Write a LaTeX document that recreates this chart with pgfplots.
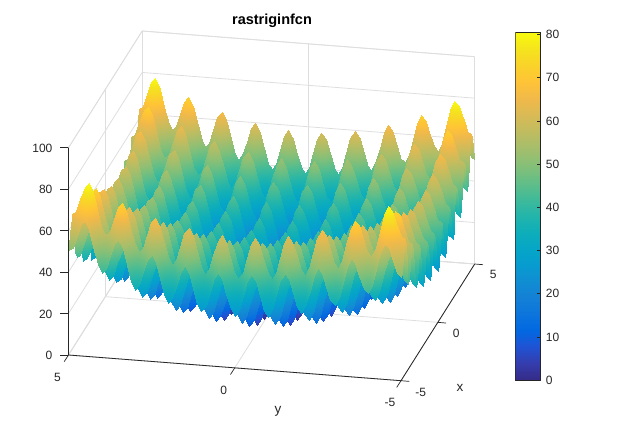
\documentclass[border=0pt]{standalone}
\usepackage{pgfplots}
\usepackage{pgfplotstable}
\pgfplotsset{compat=1.18}
\usepackage{fontspec}
\setmainfont{Liberation Sans}
\usepgfplotslibrary{patchplots}
\definecolor{axc}{gray}{0.15}
\definecolor{grc}{gray}{0.87}
\pgfplotsset{
 /pgf/number format/assume math mode=true,
 colormap={parula}{rgb=(.2081,.1663,.5292) rgb=(.2081,.2386,.6771) rgb=(.1253,.3242,.8303) rgb=(.0060,.4086,.8828) rgb=(.0498,.4586,.8641) rgb=(.0779,.5040,.8384) rgb=(.0641,.5570,.8240) rgb=(.0265,.6137,.8135) rgb=(.0228,.6535,.7768) rgb=(.0590,.6838,.7254) rgb=(.1453,.7098,.6646) rgb=(.2586,.7317,.5954) rgb=(.3953,.7459,.5244) rgb=(.5300,.7491,.4661) rgb=(.6473,.7456,.4188) rgb=(.7525,.7384,.3768) rgb=(.8507,.7299,.3360) rgb=(.9450,.7261,.2886) rgb=(.9990,.7653,.2164) rgb=(.9789,.8271,.1633) rgb=(.9589,.8949,.1132) rgb=(.9763,.9831,.0538)}
}
\pgfplotstableread[header=false,row sep=\\]{50.0\\51.7\\57.6\\63.5\\65.3\\61.2\\53.1\\45.0\\41.0\\43.0\\49.1\\55.2\\57.3\\53.5\\45.6\\37.7\\34.0\\36.2\\42.6\\49.0\\51.3\\47.7\\40.1\\32.5\\29.0\\31.5\\38.1\\44.7\\47.3\\44.0\\36.6\\29.2\\26.0\\28.7\\35.6\\42.5\\45.3\\42.2\\35.1\\28.0\\25.0\\28.0\\35.1\\42.2\\45.3\\42.5\\35.6\\28.7\\26.0\\29.2\\36.6\\44.0\\47.3\\44.7\\38.1\\31.5\\29.0\\32.5\\40.1\\47.7\\51.3\\49.0\\42.6\\36.2\\34.0\\37.7\\45.6\\53.5\\57.3\\55.2\\49.1\\43.0\\41.0\\45.0\\53.1\\61.2\\65.3\\63.5\\57.6\\51.7\\50.0\\}\Ra
\pgfplotstableread[header=false,row sep=\\]{51.7\\53.4\\59.3\\65.2\\67.0\\62.9\\54.8\\46.7\\42.7\\44.7\\50.8\\56.9\\59.0\\55.2\\47.3\\39.4\\35.7\\37.9\\44.3\\50.7\\53.0\\49.4\\41.8\\34.2\\30.7\\33.2\\39.8\\46.4\\49.0\\45.7\\38.3\\30.9\\27.7\\30.4\\37.3\\44.2\\47.0\\43.9\\36.8\\29.7\\26.7\\29.7\\36.8\\43.9\\47.0\\44.2\\37.3\\30.4\\27.7\\30.9\\38.3\\45.7\\49.0\\46.4\\39.8\\33.2\\30.7\\34.2\\41.8\\49.4\\53.0\\50.7\\44.3\\37.9\\35.7\\39.4\\47.3\\55.2\\59.0\\56.9\\50.8\\44.7\\42.7\\46.7\\54.8\\62.9\\67.0\\65.2\\59.3\\53.4\\51.7\\}\Sa
\pgfplotstableread[header=false,row sep=\\]{57.6\\59.3\\65.2\\71.1\\72.9\\68.8\\60.7\\52.6\\48.6\\50.6\\56.7\\62.8\\64.9\\61.1\\53.2\\45.3\\41.6\\43.8\\50.2\\56.6\\58.9\\55.3\\47.7\\40.1\\36.6\\39.1\\45.7\\52.3\\54.9\\51.6\\44.2\\36.8\\33.6\\36.3\\43.2\\50.1\\52.9\\49.8\\42.7\\35.6\\32.6\\35.6\\42.7\\49.8\\52.9\\50.1\\43.2\\36.3\\33.6\\36.8\\44.2\\51.6\\54.9\\52.3\\45.7\\39.1\\36.6\\40.1\\47.7\\55.3\\58.9\\56.6\\50.2\\43.8\\41.6\\45.3\\53.2\\61.1\\64.9\\62.8\\56.7\\50.6\\48.6\\52.6\\60.7\\68.8\\72.9\\71.1\\65.2\\59.3\\57.6\\}\Rb
\pgfplotstableread[header=false,row sep=\\]{63.5\\65.2\\71.1\\77.0\\78.8\\74.7\\66.6\\58.5\\54.5\\56.5\\62.6\\68.7\\70.8\\67.0\\59.1\\51.2\\47.5\\49.7\\56.1\\62.5\\64.8\\61.2\\53.6\\46.0\\42.5\\45.0\\51.6\\58.2\\60.8\\57.5\\50.1\\42.7\\39.5\\42.2\\49.1\\56.0\\58.8\\55.7\\48.6\\41.5\\38.5\\41.5\\48.6\\55.7\\58.8\\56.0\\49.1\\42.2\\39.5\\42.7\\50.1\\57.5\\60.8\\58.2\\51.6\\45.0\\42.5\\46.0\\53.6\\61.2\\64.8\\62.5\\56.1\\49.7\\47.5\\51.2\\59.1\\67.0\\70.8\\68.7\\62.6\\56.5\\54.5\\58.5\\66.6\\74.7\\78.8\\77.0\\71.1\\65.2\\63.5\\}\Sb
\pgfplotstableread[header=false,row sep=\\]{65.3\\67.0\\72.9\\78.8\\80.6\\76.5\\68.4\\60.3\\56.3\\58.3\\64.4\\70.5\\72.6\\68.8\\60.9\\53.0\\49.3\\51.5\\57.9\\64.3\\66.6\\63.0\\55.4\\47.8\\44.3\\46.8\\53.4\\60.0\\62.6\\59.3\\51.9\\44.5\\41.3\\44.0\\50.9\\57.8\\60.6\\57.5\\50.4\\43.3\\40.3\\43.3\\50.4\\57.5\\60.6\\57.8\\50.9\\44.0\\41.3\\44.5\\51.9\\59.3\\62.6\\60.0\\53.4\\46.8\\44.3\\47.8\\55.4\\63.0\\66.6\\64.3\\57.9\\51.5\\49.3\\53.0\\60.9\\68.8\\72.6\\70.5\\64.4\\58.3\\56.3\\60.3\\68.4\\76.5\\80.6\\78.8\\72.9\\67.0\\65.3\\}\Rc
\pgfplotstableread[header=false,row sep=\\]{61.2\\62.9\\68.8\\74.7\\76.5\\72.4\\64.3\\56.2\\52.2\\54.2\\60.3\\66.4\\68.5\\64.7\\56.8\\48.9\\45.2\\47.4\\53.8\\60.2\\62.5\\58.9\\51.3\\43.7\\40.2\\42.7\\49.3\\55.9\\58.5\\55.2\\47.8\\40.4\\37.2\\39.9\\46.8\\53.7\\56.5\\53.4\\46.3\\39.2\\36.2\\39.2\\46.3\\53.4\\56.5\\53.7\\46.8\\39.9\\37.2\\40.4\\47.8\\55.2\\58.5\\55.9\\49.3\\42.7\\40.2\\43.7\\51.3\\58.9\\62.5\\60.2\\53.8\\47.4\\45.2\\48.9\\56.8\\64.7\\68.5\\66.4\\60.3\\54.2\\52.2\\56.2\\64.3\\72.4\\76.5\\74.7\\68.8\\62.9\\61.2\\}\Sc
\pgfplotstableread[header=false,row sep=\\]{53.1\\54.8\\60.7\\66.6\\68.4\\64.3\\56.2\\48.1\\44.1\\46.1\\52.2\\58.3\\60.4\\56.6\\48.7\\40.8\\37.1\\39.3\\45.7\\52.1\\54.4\\50.8\\43.2\\35.6\\32.1\\34.6\\41.2\\47.8\\50.4\\47.1\\39.7\\32.3\\29.1\\31.8\\38.7\\45.6\\48.4\\45.3\\38.2\\31.1\\28.1\\31.1\\38.2\\45.3\\48.4\\45.6\\38.7\\31.8\\29.1\\32.3\\39.7\\47.1\\50.4\\47.8\\41.2\\34.6\\32.1\\35.6\\43.2\\50.8\\54.4\\52.1\\45.7\\39.3\\37.1\\40.8\\48.7\\56.6\\60.4\\58.3\\52.2\\46.1\\44.1\\48.1\\56.2\\64.3\\68.4\\66.6\\60.7\\54.8\\53.1\\}\Rd
\pgfplotstableread[header=false,row sep=\\]{45.0\\46.7\\52.6\\58.5\\60.3\\56.2\\48.1\\40.0\\36.0\\38.0\\44.1\\50.2\\52.3\\48.5\\40.6\\32.7\\29.0\\31.2\\37.6\\44.0\\46.3\\42.7\\35.1\\27.5\\24.0\\26.5\\33.1\\39.7\\42.3\\39.0\\31.6\\24.2\\21.0\\23.7\\30.6\\37.5\\40.3\\37.2\\30.1\\23.0\\20.0\\23.0\\30.1\\37.2\\40.3\\37.5\\30.6\\23.7\\21.0\\24.2\\31.6\\39.0\\42.3\\39.7\\33.1\\26.5\\24.0\\27.5\\35.1\\42.7\\46.3\\44.0\\37.6\\31.2\\29.0\\32.7\\40.6\\48.5\\52.3\\50.2\\44.1\\38.0\\36.0\\40.0\\48.1\\56.2\\60.3\\58.5\\52.6\\46.7\\45.0\\}\Sd
\pgfplotstableread[header=false,row sep=\\]{41.0\\42.7\\48.6\\54.5\\56.3\\52.2\\44.1\\36.0\\32.0\\34.0\\40.1\\46.2\\48.3\\44.5\\36.6\\28.7\\25.0\\27.2\\33.6\\40.0\\42.3\\38.7\\31.1\\23.5\\20.0\\22.5\\29.1\\35.7\\38.3\\35.0\\27.6\\20.2\\17.0\\19.7\\26.6\\33.5\\36.3\\33.2\\26.1\\19.0\\16.0\\19.0\\26.1\\33.2\\36.3\\33.5\\26.6\\19.7\\17.0\\20.2\\27.6\\35.0\\38.3\\35.7\\29.1\\22.5\\20.0\\23.5\\31.1\\38.7\\42.3\\40.0\\33.6\\27.2\\25.0\\28.7\\36.6\\44.5\\48.3\\46.2\\40.1\\34.0\\32.0\\36.0\\44.1\\52.2\\56.3\\54.5\\48.6\\42.7\\41.0\\}\Re
\pgfplotstableread[header=false,row sep=\\]{43.0\\44.7\\50.6\\56.5\\58.3\\54.2\\46.1\\38.0\\34.0\\36.0\\42.1\\48.2\\50.3\\46.5\\38.6\\30.7\\27.0\\29.2\\35.6\\42.0\\44.3\\40.7\\33.1\\25.5\\22.0\\24.5\\31.1\\37.7\\40.3\\37.0\\29.6\\22.2\\19.0\\21.7\\28.6\\35.5\\38.3\\35.2\\28.1\\21.0\\18.0\\21.0\\28.1\\35.2\\38.3\\35.5\\28.6\\21.7\\19.0\\22.2\\29.6\\37.0\\40.3\\37.7\\31.1\\24.5\\22.0\\25.5\\33.1\\40.7\\44.3\\42.0\\35.6\\29.2\\27.0\\30.7\\38.6\\46.5\\50.3\\48.2\\42.1\\36.0\\34.0\\38.0\\46.1\\54.2\\58.3\\56.5\\50.6\\44.7\\43.0\\}\Se
\pgfplotstableread[header=false,row sep=\\]{49.1\\50.8\\56.7\\62.6\\64.4\\60.3\\52.2\\44.1\\40.1\\42.1\\48.2\\54.3\\56.4\\52.6\\44.7\\36.8\\33.1\\35.3\\41.7\\48.1\\50.4\\46.8\\39.2\\31.6\\28.1\\30.6\\37.2\\43.8\\46.4\\43.1\\35.7\\28.3\\25.1\\27.8\\34.7\\41.6\\44.4\\41.3\\34.2\\27.1\\24.1\\27.1\\34.2\\41.3\\44.4\\41.6\\34.7\\27.8\\25.1\\28.3\\35.7\\43.1\\46.4\\43.8\\37.2\\30.6\\28.1\\31.6\\39.2\\46.8\\50.4\\48.1\\41.7\\35.3\\33.1\\36.8\\44.7\\52.6\\56.4\\54.3\\48.2\\42.1\\40.1\\44.1\\52.2\\60.3\\64.4\\62.6\\56.7\\50.8\\49.1\\}\Rf
\pgfplotstableread[header=false,row sep=\\]{55.2\\56.9\\62.8\\68.7\\70.5\\66.4\\58.3\\50.2\\46.2\\48.2\\54.3\\60.4\\62.5\\58.7\\50.8\\42.9\\39.2\\41.4\\47.8\\54.2\\56.5\\52.9\\45.3\\37.7\\34.2\\36.7\\43.3\\49.9\\52.5\\49.2\\41.8\\34.4\\31.2\\33.9\\40.8\\47.7\\50.5\\47.4\\40.3\\33.2\\30.2\\33.2\\40.3\\47.4\\50.5\\47.7\\40.8\\33.9\\31.2\\34.4\\41.8\\49.2\\52.5\\49.9\\43.3\\36.7\\34.2\\37.7\\45.3\\52.9\\56.5\\54.2\\47.8\\41.4\\39.2\\42.9\\50.8\\58.7\\62.5\\60.4\\54.3\\48.2\\46.2\\50.2\\58.3\\66.4\\70.5\\68.7\\62.8\\56.9\\55.2\\}\Sf
\pgfplotstableread[header=false,row sep=\\]{57.3\\59.0\\64.9\\70.8\\72.6\\68.5\\60.4\\52.3\\48.3\\50.3\\56.4\\62.5\\64.6\\60.8\\52.9\\45.0\\41.3\\43.5\\49.9\\56.3\\58.6\\55.0\\47.4\\39.8\\36.3\\38.8\\45.4\\52.0\\54.6\\51.3\\43.9\\36.5\\33.3\\36.0\\42.9\\49.8\\52.6\\49.5\\42.4\\35.3\\32.3\\35.3\\42.4\\49.5\\52.6\\49.8\\42.9\\36.0\\33.3\\36.5\\43.9\\51.3\\54.6\\52.0\\45.4\\38.8\\36.3\\39.8\\47.4\\55.0\\58.6\\56.3\\49.9\\43.5\\41.3\\45.0\\52.9\\60.8\\64.6\\62.5\\56.4\\50.3\\48.3\\52.3\\60.4\\68.5\\72.6\\70.8\\64.9\\59.0\\57.3\\}\Rg
\pgfplotstableread[header=false,row sep=\\]{53.5\\55.2\\61.1\\67.0\\68.8\\64.7\\56.6\\48.5\\44.5\\46.5\\52.6\\58.7\\60.8\\57.0\\49.1\\41.2\\37.5\\39.7\\46.1\\52.5\\54.8\\51.2\\43.6\\36.0\\32.5\\35.0\\41.6\\48.2\\50.8\\47.5\\40.1\\32.7\\29.5\\32.2\\39.1\\46.0\\48.8\\45.7\\38.6\\31.5\\28.5\\31.5\\38.6\\45.7\\48.8\\46.0\\39.1\\32.2\\29.5\\32.7\\40.1\\47.5\\50.8\\48.2\\41.6\\35.0\\32.5\\36.0\\43.6\\51.2\\54.8\\52.5\\46.1\\39.7\\37.5\\41.2\\49.1\\57.0\\60.8\\58.7\\52.6\\46.5\\44.5\\48.5\\56.6\\64.7\\68.8\\67.0\\61.1\\55.2\\53.5\\}\Sg
\pgfplotstableread[header=false,row sep=\\]{45.6\\47.3\\53.2\\59.1\\60.9\\56.8\\48.7\\40.6\\36.6\\38.6\\44.7\\50.8\\52.9\\49.1\\41.2\\33.3\\29.6\\31.8\\38.2\\44.6\\46.9\\43.3\\35.7\\28.1\\24.6\\27.1\\33.7\\40.3\\42.9\\39.6\\32.2\\24.8\\21.6\\24.3\\31.2\\38.1\\40.9\\37.8\\30.7\\23.6\\20.6\\23.6\\30.7\\37.8\\40.9\\38.1\\31.2\\24.3\\21.6\\24.8\\32.2\\39.6\\42.9\\40.3\\33.7\\27.1\\24.6\\28.1\\35.7\\43.3\\46.9\\44.6\\38.2\\31.8\\29.6\\33.3\\41.2\\49.1\\52.9\\50.8\\44.7\\38.6\\36.6\\40.6\\48.7\\56.8\\60.9\\59.1\\53.2\\47.3\\45.6\\}\Rh
\pgfplotstableread[header=false,row sep=\\]{37.7\\39.4\\45.3\\51.2\\53.0\\48.9\\40.8\\32.7\\28.7\\30.7\\36.8\\42.9\\45.0\\41.2\\33.3\\25.4\\21.7\\23.9\\30.3\\36.7\\39.0\\35.4\\27.8\\20.2\\16.7\\19.2\\25.8\\32.4\\35.0\\31.7\\24.3\\16.9\\13.7\\16.4\\23.3\\30.2\\33.0\\29.9\\22.8\\15.7\\12.7\\15.7\\22.8\\29.9\\33.0\\30.2\\23.3\\16.4\\13.7\\16.9\\24.3\\31.7\\35.0\\32.4\\25.8\\19.2\\16.7\\20.2\\27.8\\35.4\\39.0\\36.7\\30.3\\23.9\\21.7\\25.4\\33.3\\41.2\\45.0\\42.9\\36.8\\30.7\\28.7\\32.7\\40.8\\48.9\\53.0\\51.2\\45.3\\39.4\\37.7\\}\Sh
\pgfplotstableread[header=false,row sep=\\]{34.0\\35.7\\41.6\\47.5\\49.3\\45.2\\37.1\\29.0\\25.0\\27.0\\33.1\\39.2\\41.3\\37.5\\29.6\\21.7\\18.0\\20.2\\26.6\\33.0\\35.3\\31.7\\24.1\\16.5\\13.0\\15.5\\22.1\\28.7\\31.3\\28.0\\20.6\\13.2\\10.0\\12.7\\19.6\\26.5\\29.3\\26.2\\19.1\\12.0\\9.0\\12.0\\19.1\\26.2\\29.3\\26.5\\19.6\\12.7\\10.0\\13.2\\20.6\\28.0\\31.3\\28.7\\22.1\\15.5\\13.0\\16.5\\24.1\\31.7\\35.3\\33.0\\26.6\\20.2\\18.0\\21.7\\29.6\\37.5\\41.3\\39.2\\33.1\\27.0\\25.0\\29.0\\37.1\\45.2\\49.3\\47.5\\41.6\\35.7\\34.0\\}\Ri
\pgfplotstableread[header=false,row sep=\\]{36.2\\37.9\\43.8\\49.7\\51.5\\47.4\\39.3\\31.2\\27.2\\29.2\\35.3\\41.4\\43.5\\39.7\\31.8\\23.9\\20.2\\22.4\\28.8\\35.2\\37.5\\33.9\\26.3\\18.7\\15.2\\17.7\\24.3\\30.9\\33.5\\30.2\\22.8\\15.4\\12.2\\14.9\\21.8\\28.7\\31.5\\28.4\\21.3\\14.2\\11.2\\14.2\\21.3\\28.4\\31.5\\28.7\\21.8\\14.9\\12.2\\15.4\\22.8\\30.2\\33.5\\30.9\\24.3\\17.7\\15.2\\18.7\\26.3\\33.9\\37.5\\35.2\\28.8\\22.4\\20.2\\23.9\\31.8\\39.7\\43.5\\41.4\\35.3\\29.2\\27.2\\31.2\\39.3\\47.4\\51.5\\49.7\\43.8\\37.9\\36.2\\}\Si
\pgfplotstableread[header=false,row sep=\\]{42.6\\44.3\\50.2\\56.1\\57.9\\53.8\\45.7\\37.6\\33.6\\35.6\\41.7\\47.8\\49.9\\46.1\\38.2\\30.3\\26.6\\28.8\\35.2\\41.6\\43.9\\40.3\\32.7\\25.1\\21.6\\24.1\\30.7\\37.3\\39.9\\36.6\\29.2\\21.8\\18.6\\21.3\\28.2\\35.1\\37.9\\34.8\\27.7\\20.6\\17.6\\20.6\\27.7\\34.8\\37.9\\35.1\\28.2\\21.3\\18.6\\21.8\\29.2\\36.6\\39.9\\37.3\\30.7\\24.1\\21.6\\25.1\\32.7\\40.3\\43.9\\41.6\\35.2\\28.8\\26.6\\30.3\\38.2\\46.1\\49.9\\47.8\\41.7\\35.6\\33.6\\37.6\\45.7\\53.8\\57.9\\56.1\\50.2\\44.3\\42.6\\}\Rj
\pgfplotstableread[header=false,row sep=\\]{49.0\\50.7\\56.6\\62.5\\64.3\\60.2\\52.1\\44.0\\40.0\\42.0\\48.1\\54.2\\56.3\\52.5\\44.6\\36.7\\33.0\\35.2\\41.6\\48.0\\50.3\\46.7\\39.1\\31.5\\28.0\\30.5\\37.1\\43.7\\46.3\\43.0\\35.6\\28.2\\25.0\\27.7\\34.6\\41.5\\44.3\\41.2\\34.1\\27.0\\24.0\\27.0\\34.1\\41.2\\44.3\\41.5\\34.6\\27.7\\25.0\\28.2\\35.6\\43.0\\46.3\\43.7\\37.1\\30.5\\28.0\\31.5\\39.1\\46.7\\50.3\\48.0\\41.6\\35.2\\33.0\\36.7\\44.6\\52.5\\56.3\\54.2\\48.1\\42.0\\40.0\\44.0\\52.1\\60.2\\64.3\\62.5\\56.6\\50.7\\49.0\\}\Sj
\pgfplotstableread[header=false,row sep=\\]{51.3\\53.0\\58.9\\64.8\\66.6\\62.5\\54.4\\46.3\\42.3\\44.3\\50.4\\56.5\\58.6\\54.8\\46.9\\39.0\\35.3\\37.5\\43.9\\50.3\\52.6\\49.0\\41.4\\33.8\\30.3\\32.8\\39.4\\46.0\\48.6\\45.3\\37.9\\30.5\\27.3\\30.0\\36.9\\43.8\\46.6\\43.5\\36.4\\29.3\\26.3\\29.3\\36.4\\43.5\\46.6\\43.8\\36.9\\30.0\\27.3\\30.5\\37.9\\45.3\\48.6\\46.0\\39.4\\32.8\\30.3\\33.8\\41.4\\49.0\\52.6\\50.3\\43.9\\37.5\\35.3\\39.0\\46.9\\54.8\\58.6\\56.5\\50.4\\44.3\\42.3\\46.3\\54.4\\62.5\\66.6\\64.8\\58.9\\53.0\\51.3\\}\Rk
\pgfplotstableread[header=false,row sep=\\]{47.7\\49.4\\55.3\\61.2\\63.0\\58.9\\50.8\\42.7\\38.7\\40.7\\46.8\\52.9\\55.0\\51.2\\43.3\\35.4\\31.7\\33.9\\40.3\\46.7\\49.0\\45.4\\37.8\\30.2\\26.7\\29.2\\35.8\\42.4\\45.0\\41.7\\34.3\\26.9\\23.7\\26.4\\33.3\\40.2\\43.0\\39.9\\32.8\\25.7\\22.7\\25.7\\32.8\\39.9\\43.0\\40.2\\33.3\\26.4\\23.7\\26.9\\34.3\\41.7\\45.0\\42.4\\35.8\\29.2\\26.7\\30.2\\37.8\\45.4\\49.0\\46.7\\40.3\\33.9\\31.7\\35.4\\43.3\\51.2\\55.0\\52.9\\46.8\\40.7\\38.7\\42.7\\50.8\\58.9\\63.0\\61.2\\55.3\\49.4\\47.7\\}\Sk
\pgfplotstableread[header=false,row sep=\\]{40.1\\41.8\\47.7\\53.6\\55.4\\51.3\\43.2\\35.1\\31.1\\33.1\\39.2\\45.3\\47.4\\43.6\\35.7\\27.8\\24.1\\26.3\\32.7\\39.1\\41.4\\37.8\\30.2\\22.6\\19.1\\21.6\\28.2\\34.8\\37.4\\34.1\\26.7\\19.3\\16.1\\18.8\\25.7\\32.6\\35.4\\32.3\\25.2\\18.1\\15.1\\18.1\\25.2\\32.3\\35.4\\32.6\\25.7\\18.8\\16.1\\19.3\\26.7\\34.1\\37.4\\34.8\\28.2\\21.6\\19.1\\22.6\\30.2\\37.8\\41.4\\39.1\\32.7\\26.3\\24.1\\27.8\\35.7\\43.6\\47.4\\45.3\\39.2\\33.1\\31.1\\35.1\\43.2\\51.3\\55.4\\53.6\\47.7\\41.8\\40.1\\}\Rl
\pgfplotstableread[header=false,row sep=\\]{32.5\\34.2\\40.1\\46.0\\47.8\\43.7\\35.6\\27.5\\23.5\\25.5\\31.6\\37.7\\39.8\\36.0\\28.1\\20.2\\16.5\\18.7\\25.1\\31.5\\33.8\\30.2\\22.6\\15.0\\11.5\\14.0\\20.6\\27.2\\29.8\\26.5\\19.1\\11.7\\8.5\\11.2\\18.1\\25.0\\27.8\\24.7\\17.6\\10.5\\7.5\\10.5\\17.6\\24.7\\27.8\\25.0\\18.1\\11.2\\8.5\\11.7\\19.1\\26.5\\29.8\\27.2\\20.6\\14.0\\11.5\\15.0\\22.6\\30.2\\33.8\\31.5\\25.1\\18.7\\16.5\\20.2\\28.1\\36.0\\39.8\\37.7\\31.6\\25.5\\23.5\\27.5\\35.6\\43.7\\47.8\\46.0\\40.1\\34.2\\32.5\\}\Sl
\pgfplotstableread[header=false,row sep=\\]{29.0\\30.7\\36.6\\42.5\\44.3\\40.2\\32.1\\24.0\\20.0\\22.0\\28.1\\34.2\\36.3\\32.5\\24.6\\16.7\\13.0\\15.2\\21.6\\28.0\\30.3\\26.7\\19.1\\11.5\\8.0\\10.5\\17.1\\23.7\\26.3\\23.0\\15.6\\8.2\\5.0\\7.7\\14.6\\21.5\\24.3\\21.2\\14.1\\7.0\\4.0\\7.0\\14.1\\21.2\\24.3\\21.5\\14.6\\7.7\\5.0\\8.2\\15.6\\23.0\\26.3\\23.7\\17.1\\10.5\\8.0\\11.5\\19.1\\26.7\\30.3\\28.0\\21.6\\15.2\\13.0\\16.7\\24.6\\32.5\\36.3\\34.2\\28.1\\22.0\\20.0\\24.0\\32.1\\40.2\\44.3\\42.5\\36.6\\30.7\\29.0\\}\Rm
\pgfplotstableread[header=false,row sep=\\]{31.5\\33.2\\39.1\\45.0\\46.8\\42.7\\34.6\\26.5\\22.5\\24.5\\30.6\\36.7\\38.8\\35.0\\27.1\\19.2\\15.5\\17.7\\24.1\\30.5\\32.8\\29.2\\21.6\\14.0\\10.5\\13.0\\19.6\\26.2\\28.8\\25.5\\18.1\\10.7\\7.5\\10.2\\17.1\\24.0\\26.8\\23.7\\16.6\\9.5\\6.5\\9.5\\16.6\\23.7\\26.8\\24.0\\17.1\\10.2\\7.5\\10.7\\18.1\\25.5\\28.8\\26.2\\19.6\\13.0\\10.5\\14.0\\21.6\\29.2\\32.8\\30.5\\24.1\\17.7\\15.5\\19.2\\27.1\\35.0\\38.8\\36.7\\30.6\\24.5\\22.5\\26.5\\34.6\\42.7\\46.8\\45.0\\39.1\\33.2\\31.5\\}\Sm
\pgfplotstableread[header=false,row sep=\\]{38.1\\39.8\\45.7\\51.6\\53.4\\49.3\\41.2\\33.1\\29.1\\31.1\\37.2\\43.3\\45.4\\41.6\\33.7\\25.8\\22.1\\24.3\\30.7\\37.1\\39.4\\35.8\\28.2\\20.6\\17.1\\19.6\\26.2\\32.8\\35.4\\32.1\\24.7\\17.3\\14.1\\16.8\\23.7\\30.6\\33.4\\30.3\\23.2\\16.1\\13.1\\16.1\\23.2\\30.3\\33.4\\30.6\\23.7\\16.8\\14.1\\17.3\\24.7\\32.1\\35.4\\32.8\\26.2\\19.6\\17.1\\20.6\\28.2\\35.8\\39.4\\37.1\\30.7\\24.3\\22.1\\25.8\\33.7\\41.6\\45.4\\43.3\\37.2\\31.1\\29.1\\33.1\\41.2\\49.3\\53.4\\51.6\\45.7\\39.8\\38.1\\}\Rn
\pgfplotstableread[header=false,row sep=\\]{44.7\\46.4\\52.3\\58.2\\60.0\\55.9\\47.8\\39.7\\35.7\\37.7\\43.8\\49.9\\52.0\\48.2\\40.3\\32.4\\28.7\\30.9\\37.3\\43.7\\46.0\\42.4\\34.8\\27.2\\23.7\\26.2\\32.8\\39.4\\42.0\\38.7\\31.3\\23.9\\20.7\\23.4\\30.3\\37.2\\40.0\\36.9\\29.8\\22.7\\19.7\\22.7\\29.8\\36.9\\40.0\\37.2\\30.3\\23.4\\20.7\\23.9\\31.3\\38.7\\42.0\\39.4\\32.8\\26.2\\23.7\\27.2\\34.8\\42.4\\46.0\\43.7\\37.3\\30.9\\28.7\\32.4\\40.3\\48.2\\52.0\\49.9\\43.8\\37.7\\35.7\\39.7\\47.8\\55.9\\60.0\\58.2\\52.3\\46.4\\44.7\\}\Sn
\pgfplotstableread[header=false,row sep=\\]{47.3\\49.0\\54.9\\60.8\\62.6\\58.5\\50.4\\42.3\\38.3\\40.3\\46.4\\52.5\\54.6\\50.8\\42.9\\35.0\\31.3\\33.5\\39.9\\46.3\\48.6\\45.0\\37.4\\29.8\\26.3\\28.8\\35.4\\42.0\\44.6\\41.3\\33.9\\26.5\\23.3\\26.0\\32.9\\39.8\\42.6\\39.5\\32.4\\25.3\\22.3\\25.3\\32.4\\39.5\\42.6\\39.8\\32.9\\26.0\\23.3\\26.5\\33.9\\41.3\\44.6\\42.0\\35.4\\28.8\\26.3\\29.8\\37.4\\45.0\\48.6\\46.3\\39.9\\33.5\\31.3\\35.0\\42.9\\50.8\\54.6\\52.5\\46.4\\40.3\\38.3\\42.3\\50.4\\58.5\\62.6\\60.8\\54.9\\49.0\\47.3\\}\Ro
\pgfplotstableread[header=false,row sep=\\]{44.0\\45.7\\51.6\\57.5\\59.3\\55.2\\47.1\\39.0\\35.0\\37.0\\43.1\\49.2\\51.3\\47.5\\39.6\\31.7\\28.0\\30.2\\36.6\\43.0\\45.3\\41.7\\34.1\\26.5\\23.0\\25.5\\32.1\\38.7\\41.3\\38.0\\30.6\\23.2\\20.0\\22.7\\29.6\\36.5\\39.3\\36.2\\29.1\\22.0\\19.0\\22.0\\29.1\\36.2\\39.3\\36.5\\29.6\\22.7\\20.0\\23.2\\30.6\\38.0\\41.3\\38.7\\32.1\\25.5\\23.0\\26.5\\34.1\\41.7\\45.3\\43.0\\36.6\\30.2\\28.0\\31.7\\39.6\\47.5\\51.3\\49.2\\43.1\\37.0\\35.0\\39.0\\47.1\\55.2\\59.3\\57.5\\51.6\\45.7\\44.0\\}\So
\pgfplotstableread[header=false,row sep=\\]{36.6\\38.3\\44.2\\50.1\\51.9\\47.8\\39.7\\31.6\\27.6\\29.6\\35.7\\41.8\\43.9\\40.1\\32.2\\24.3\\20.6\\22.8\\29.2\\35.6\\37.9\\34.3\\26.7\\19.1\\15.6\\18.1\\24.7\\31.3\\33.9\\30.6\\23.2\\15.8\\12.6\\15.3\\22.2\\29.1\\31.9\\28.8\\21.7\\14.6\\11.6\\14.6\\21.7\\28.8\\31.9\\29.1\\22.2\\15.3\\12.6\\15.8\\23.2\\30.6\\33.9\\31.3\\24.7\\18.1\\15.6\\19.1\\26.7\\34.3\\37.9\\35.6\\29.2\\22.8\\20.6\\24.3\\32.2\\40.1\\43.9\\41.8\\35.7\\29.6\\27.6\\31.6\\39.7\\47.8\\51.9\\50.1\\44.2\\38.3\\36.6\\}\Rp
\pgfplotstableread[header=false,row sep=\\]{29.2\\30.9\\36.8\\42.7\\44.5\\40.4\\32.3\\24.2\\20.2\\22.2\\28.3\\34.4\\36.5\\32.7\\24.8\\16.9\\13.2\\15.4\\21.8\\28.2\\30.5\\26.9\\19.3\\11.7\\8.2\\10.7\\17.3\\23.9\\26.5\\23.2\\15.8\\8.4\\5.2\\7.9\\14.8\\21.7\\24.5\\21.4\\14.3\\7.2\\4.2\\7.2\\14.3\\21.4\\24.5\\21.7\\14.8\\7.9\\5.2\\8.4\\15.8\\23.2\\26.5\\23.9\\17.3\\10.7\\8.2\\11.7\\19.3\\26.9\\30.5\\28.2\\21.8\\15.4\\13.2\\16.9\\24.8\\32.7\\36.5\\34.4\\28.3\\22.2\\20.2\\24.2\\32.3\\40.4\\44.5\\42.7\\36.8\\30.9\\29.2\\}\Sp
\pgfplotstableread[header=false,row sep=\\]{26.0\\27.7\\33.6\\39.5\\41.3\\37.2\\29.1\\21.0\\17.0\\19.0\\25.1\\31.2\\33.3\\29.5\\21.6\\13.7\\10.0\\12.2\\18.6\\25.0\\27.3\\23.7\\16.1\\8.5\\5.0\\7.5\\14.1\\20.7\\23.3\\20.0\\12.6\\5.2\\2.0\\4.7\\11.6\\18.5\\21.3\\18.2\\11.1\\4.0\\1.0\\4.0\\11.1\\18.2\\21.3\\18.5\\11.6\\4.7\\2.0\\5.2\\12.6\\20.0\\23.3\\20.7\\14.1\\7.5\\5.0\\8.5\\16.1\\23.7\\27.3\\25.0\\18.6\\12.2\\10.0\\13.7\\21.6\\29.5\\33.3\\31.2\\25.1\\19.0\\17.0\\21.0\\29.1\\37.2\\41.3\\39.5\\33.6\\27.7\\26.0\\}\Rq
\pgfplotstableread[header=false,row sep=\\]{28.7\\30.4\\36.3\\42.2\\44.0\\39.9\\31.8\\23.7\\19.7\\21.7\\27.8\\33.9\\36.0\\32.2\\24.3\\16.4\\12.7\\14.9\\21.3\\27.7\\30.0\\26.4\\18.8\\11.2\\7.7\\10.2\\16.8\\23.4\\26.0\\22.7\\15.3\\7.9\\4.7\\7.4\\14.3\\21.2\\24.0\\20.9\\13.8\\6.7\\3.7\\6.7\\13.8\\20.9\\24.0\\21.2\\14.3\\7.4\\4.7\\7.9\\15.3\\22.7\\26.0\\23.4\\16.8\\10.2\\7.7\\11.2\\18.8\\26.4\\30.0\\27.7\\21.3\\14.9\\12.7\\16.4\\24.3\\32.2\\36.0\\33.9\\27.8\\21.7\\19.7\\23.7\\31.8\\39.9\\44.0\\42.2\\36.3\\30.4\\28.7\\}\Sq
\pgfplotstableread[header=false,row sep=\\]{35.6\\37.3\\43.2\\49.1\\50.9\\46.8\\38.7\\30.6\\26.6\\28.6\\34.7\\40.8\\42.9\\39.1\\31.2\\23.3\\19.6\\21.8\\28.2\\34.6\\36.9\\33.3\\25.7\\18.1\\14.6\\17.1\\23.7\\30.3\\32.9\\29.6\\22.2\\14.8\\11.6\\14.3\\21.2\\28.1\\30.9\\27.8\\20.7\\13.6\\10.6\\13.6\\20.7\\27.8\\30.9\\28.1\\21.2\\14.3\\11.6\\14.8\\22.2\\29.6\\32.9\\30.3\\23.7\\17.1\\14.6\\18.1\\25.7\\33.3\\36.9\\34.6\\28.2\\21.8\\19.6\\23.3\\31.2\\39.1\\42.9\\40.8\\34.7\\28.6\\26.6\\30.6\\38.7\\46.8\\50.9\\49.1\\43.2\\37.3\\35.6\\}\Rr
\pgfplotstableread[header=false,row sep=\\]{42.5\\44.2\\50.1\\56.0\\57.8\\53.7\\45.6\\37.5\\33.5\\35.5\\41.6\\47.7\\49.8\\46.0\\38.1\\30.2\\26.5\\28.7\\35.1\\41.5\\43.8\\40.2\\32.6\\25.0\\21.5\\24.0\\30.6\\37.2\\39.8\\36.5\\29.1\\21.7\\18.5\\21.2\\28.1\\35.0\\37.8\\34.7\\27.6\\20.5\\17.5\\20.5\\27.6\\34.7\\37.8\\35.0\\28.1\\21.2\\18.5\\21.7\\29.1\\36.5\\39.8\\37.2\\30.6\\24.0\\21.5\\25.0\\32.6\\40.2\\43.8\\41.5\\35.1\\28.7\\26.5\\30.2\\38.1\\46.0\\49.8\\47.7\\41.6\\35.5\\33.5\\37.5\\45.6\\53.7\\57.8\\56.0\\50.1\\44.2\\42.5\\}\Sr
\pgfplotstableread[header=false,row sep=\\]{45.3\\47.0\\52.9\\58.8\\60.6\\56.5\\48.4\\40.3\\36.3\\38.3\\44.4\\50.5\\52.6\\48.8\\40.9\\33.0\\29.3\\31.5\\37.9\\44.3\\46.6\\43.0\\35.4\\27.8\\24.3\\26.8\\33.4\\40.0\\42.6\\39.3\\31.9\\24.5\\21.3\\24.0\\30.9\\37.8\\40.6\\37.5\\30.4\\23.3\\20.3\\23.3\\30.4\\37.5\\40.6\\37.8\\30.9\\24.0\\21.3\\24.5\\31.9\\39.3\\42.6\\40.0\\33.4\\26.8\\24.3\\27.8\\35.4\\43.0\\46.6\\44.3\\37.9\\31.5\\29.3\\33.0\\40.9\\48.8\\52.6\\50.5\\44.4\\38.3\\36.3\\40.3\\48.4\\56.5\\60.6\\58.8\\52.9\\47.0\\45.3\\}\Rs
\pgfplotstableread[header=false,row sep=\\]{42.2\\43.9\\49.8\\55.7\\57.5\\53.4\\45.3\\37.2\\33.2\\35.2\\41.3\\47.4\\49.5\\45.7\\37.8\\29.9\\26.2\\28.4\\34.8\\41.2\\43.5\\39.9\\32.3\\24.7\\21.2\\23.7\\30.3\\36.9\\39.5\\36.2\\28.8\\21.4\\18.2\\20.9\\27.8\\34.7\\37.5\\34.4\\27.3\\20.2\\17.2\\20.2\\27.3\\34.4\\37.5\\34.7\\27.8\\20.9\\18.2\\21.4\\28.8\\36.2\\39.5\\36.9\\30.3\\23.7\\21.2\\24.7\\32.3\\39.9\\43.5\\41.2\\34.8\\28.4\\26.2\\29.9\\37.8\\45.7\\49.5\\47.4\\41.3\\35.2\\33.2\\37.2\\45.3\\53.4\\57.5\\55.7\\49.8\\43.9\\42.2\\}\Ss
\pgfplotstableread[header=false,row sep=\\]{35.1\\36.8\\42.7\\48.6\\50.4\\46.3\\38.2\\30.1\\26.1\\28.1\\34.2\\40.3\\42.4\\38.6\\30.7\\22.8\\19.1\\21.3\\27.7\\34.1\\36.4\\32.8\\25.2\\17.6\\14.1\\16.6\\23.2\\29.8\\32.4\\29.1\\21.7\\14.3\\11.1\\13.8\\20.7\\27.6\\30.4\\27.3\\20.2\\13.1\\10.1\\13.1\\20.2\\27.3\\30.4\\27.6\\20.7\\13.8\\11.1\\14.3\\21.7\\29.1\\32.4\\29.8\\23.2\\16.6\\14.1\\17.6\\25.2\\32.8\\36.4\\34.1\\27.7\\21.3\\19.1\\22.8\\30.7\\38.6\\42.4\\40.3\\34.2\\28.1\\26.1\\30.1\\38.2\\46.3\\50.4\\48.6\\42.7\\36.8\\35.1\\}\Rt
\pgfplotstableread[header=false,row sep=\\]{28.0\\29.7\\35.6\\41.5\\43.3\\39.2\\31.1\\23.0\\19.0\\21.0\\27.1\\33.2\\35.3\\31.5\\23.6\\15.7\\12.0\\14.2\\20.6\\27.0\\29.3\\25.7\\18.1\\10.5\\7.0\\9.5\\16.1\\22.7\\25.3\\22.0\\14.6\\7.2\\4.0\\6.7\\13.6\\20.5\\23.3\\20.2\\13.1\\6.0\\3.0\\6.0\\13.1\\20.2\\23.3\\20.5\\13.6\\6.7\\4.0\\7.2\\14.6\\22.0\\25.3\\22.7\\16.1\\9.5\\7.0\\10.5\\18.1\\25.7\\29.3\\27.0\\20.6\\14.2\\12.0\\15.7\\23.6\\31.5\\35.3\\33.2\\27.1\\21.0\\19.0\\23.0\\31.1\\39.2\\43.3\\41.5\\35.6\\29.7\\28.0\\}\St
\pgfplotstableread[header=false,row sep=\\]{25.0\\26.7\\32.6\\38.5\\40.3\\36.2\\28.1\\20.0\\16.0\\18.0\\24.1\\30.2\\32.3\\28.5\\20.6\\12.7\\9.0\\11.2\\17.6\\24.0\\26.3\\22.7\\15.1\\7.5\\4.0\\6.5\\13.1\\19.7\\22.3\\19.0\\11.6\\4.2\\1.0\\3.7\\10.6\\17.5\\20.3\\17.2\\10.1\\3.0\\0.0\\3.0\\10.1\\17.2\\20.3\\17.5\\10.6\\3.7\\1.0\\4.2\\11.6\\19.0\\22.3\\19.7\\13.1\\6.5\\4.0\\7.5\\15.1\\22.7\\26.3\\24.0\\17.6\\11.2\\9.0\\12.7\\20.6\\28.5\\32.3\\30.2\\24.1\\18.0\\16.0\\20.0\\28.1\\36.2\\40.3\\38.5\\32.6\\26.7\\25.0\\}\Ru
\pgfplotstablevertcat\T\Ra
\pgfplotstablevertcat\T\Sa
\pgfplotstablevertcat\T\Rb
\pgfplotstablevertcat\T\Sb
\pgfplotstablevertcat\T\Rc
\pgfplotstablevertcat\T\Sc
\pgfplotstablevertcat\T\Rd
\pgfplotstablevertcat\T\Sd
\pgfplotstablevertcat\T\Re
\pgfplotstablevertcat\T\Se
\pgfplotstablevertcat\T\Rf
\pgfplotstablevertcat\T\Sf
\pgfplotstablevertcat\T\Rg
\pgfplotstablevertcat\T\Sg
\pgfplotstablevertcat\T\Rh
\pgfplotstablevertcat\T\Sh
\pgfplotstablevertcat\T\Ri
\pgfplotstablevertcat\T\Si
\pgfplotstablevertcat\T\Rj
\pgfplotstablevertcat\T\Sj
\pgfplotstablevertcat\T\Rk
\pgfplotstablevertcat\T\Sk
\pgfplotstablevertcat\T\Rl
\pgfplotstablevertcat\T\Sl
\pgfplotstablevertcat\T\Rm
\pgfplotstablevertcat\T\Sm
\pgfplotstablevertcat\T\Rn
\pgfplotstablevertcat\T\Sn
\pgfplotstablevertcat\T\Ro
\pgfplotstablevertcat\T\So
\pgfplotstablevertcat\T\Rp
\pgfplotstablevertcat\T\Sp
\pgfplotstablevertcat\T\Rq
\pgfplotstablevertcat\T\Sq
\pgfplotstablevertcat\T\Rr
\pgfplotstablevertcat\T\Sr
\pgfplotstablevertcat\T\Rs
\pgfplotstablevertcat\T\Ss
\pgfplotstablevertcat\T\Rt
\pgfplotstablevertcat\T\St
\pgfplotstablevertcat\T\Ru
\pgfplotstablevertcat\T\St
\pgfplotstablevertcat\T\Rt
\pgfplotstablevertcat\T\Ss
\pgfplotstablevertcat\T\Rs
\pgfplotstablevertcat\T\Sr
\pgfplotstablevertcat\T\Rr
\pgfplotstablevertcat\T\Sq
\pgfplotstablevertcat\T\Rq
\pgfplotstablevertcat\T\Sp
\pgfplotstablevertcat\T\Rp
\pgfplotstablevertcat\T\So
\pgfplotstablevertcat\T\Ro
\pgfplotstablevertcat\T\Sn
\pgfplotstablevertcat\T\Rn
\pgfplotstablevertcat\T\Sm
\pgfplotstablevertcat\T\Rm
\pgfplotstablevertcat\T\Sl
\pgfplotstablevertcat\T\Rl
\pgfplotstablevertcat\T\Sk
\pgfplotstablevertcat\T\Rk
\pgfplotstablevertcat\T\Sj
\pgfplotstablevertcat\T\Rj
\pgfplotstablevertcat\T\Si
\pgfplotstablevertcat\T\Ri
\pgfplotstablevertcat\T\Sh
\pgfplotstablevertcat\T\Rh
\pgfplotstablevertcat\T\Sg
\pgfplotstablevertcat\T\Rg
\pgfplotstablevertcat\T\Sf
\pgfplotstablevertcat\T\Rf
\pgfplotstablevertcat\T\Se
\pgfplotstablevertcat\T\Re
\pgfplotstablevertcat\T\Sd
\pgfplotstablevertcat\T\Rd
\pgfplotstablevertcat\T\Sc
\pgfplotstablevertcat\T\Rc
\pgfplotstablevertcat\T\Sb
\pgfplotstablevertcat\T\Rb
\pgfplotstablevertcat\T\Sa
\pgfplotstablevertcat\T\Ra
\begin{document}
\begin{tikzpicture}[x=1pt,y=1pt,font=\fontsize{13.5}{15}\selectfont]
\path[use as bounding box] (0,0) rectangle (618,428);
\begin{axis}[
 at={(271.6pt,118.5pt)}, anchor=origin,
 x={(7.37pt,11.67pt)}, y={(-33.25pt,2.57pt)}, z={(0pt,2.073pt)},
 xmin=-5,xmax=5,ymin=-5,ymax=5,zmin=0,zmax=100,
 xtick={-5,0,5}, ytick={-5,0,5}, ztick={0,20,40,60,80,100},
 xtick pos=left, ytick pos=left, ztick pos=left,
 grid=major, major grid style={grc,line width=0.8pt},
 axis line style={grc,line width=0.8pt},
 tick style={draw=none},
 major tick length=8pt,
 tick align=outside,
 ticklabel style={text=axc,font=\fontsize{12}{14}\selectfont},
 xticklabel style={xshift=3.5pt,yshift=-2.5pt},
 yticklabel style={xshift=-4.5pt,yshift=-7.2pt},
 zticklabel style={anchor=east,xshift=-4.6pt,yshift=-1.2pt},
 point meta min=0, point meta max=80.6,
 clip=false,
]
\addplot3[surf, shader=interp, mesh/cols=81, z buffer=default, point meta=z]
 table[x index=0, y index=0, z index=0, x expr={5-0.125*floor(\coordindex/81)}, y expr={5-0.125*mod(\coordindex,81)}] {\T};
\draw[axc,line width=0.8pt] (axis cs:-5,5,100)--(axis cs:-5,5,0)--(axis cs:-5,-5,0)--(axis cs:5,-5,0);
\draw[axc,line width=0.7pt] (axis cs:-5,5,0)--++(-8pt,0pt);
\draw[axc,line width=0.7pt] (axis cs:-5,5,20)--++(-8pt,0pt);
\draw[axc,line width=0.7pt] (axis cs:-5,5,40)--++(-8pt,0pt);
\draw[axc,line width=0.7pt] (axis cs:-5,5,60)--++(-8pt,0pt);
\draw[axc,line width=0.7pt] (axis cs:-5,5,80)--++(-8pt,0pt);
\draw[axc,line width=0.7pt] (axis cs:-5,5,100)--++(-8pt,0pt);
\draw[axc,line width=0.7pt] (axis cs:-5,5,0)--++(-4.3pt,-6.7pt);
\draw[axc,line width=0.7pt] (axis cs:-5,0,0)--++(-4.3pt,-6.7pt);
\draw[axc,line width=0.7pt] (axis cs:-5,-5,0)--++(-4.3pt,-6.7pt);
\draw[axc,line width=0.7pt] (axis cs:-5,-5,0)--++(8.3pt,-0.7pt);
\draw[axc,line width=0.7pt] (axis cs:0,-5,0)--++(8.3pt,-0.7pt);
\draw[axc,line width=0.7pt] (axis cs:5,-5,0)--++(8.3pt,-0.7pt);
\end{axis}
\begin{axis}[
 at={(515.3pt,47.7pt)}, anchor=south west, scale only axis, width=25pt, height=348pt,
 xmin=0,xmax=1,ymin=0,ymax=80.5, xtick=\empty, ytick={0,10,...,80},
 axis y line*=right, axis x line=none,
 enlargelimits=false, axis on top,
 axis line style={axc,line width=0.8pt}, tick style={axc,line width=0.7pt},
 tick align=inside, major tick length=3pt,
 ticklabel style={text=axc,font=\fontsize{12}{14}\selectfont,xshift=2pt},
 point meta min=0, point meta max=80.5,
]
\addplot[surf, shader=interp, mesh/cols=2, point meta=y] coordinates {(0,0) (1,0) (0,80.5) (1,80.5)};
\draw[axc,line width=0.8pt] (rel axis cs:0,0) rectangle (rel axis cs:1,1);
\end{axis}
\node[font=\fontsize{14.5}{16}\selectfont\bfseries] at (272,407.5) {rastriginfcn};
\node[text=axc] at (278,17) {y};
\node[text=axc] at (460,40) {x};
\end{tikzpicture}
\end{document}
